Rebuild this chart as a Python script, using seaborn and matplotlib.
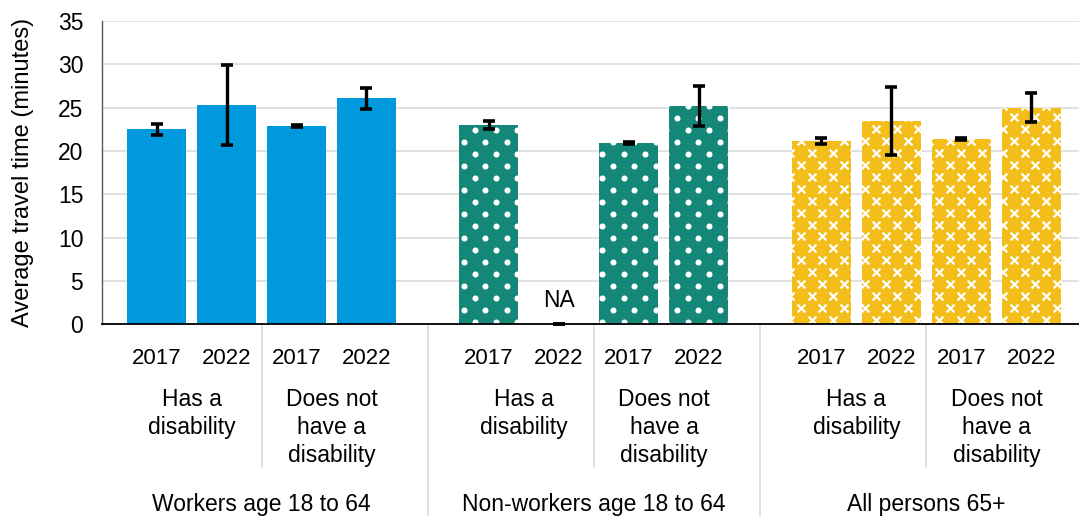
import numpy as np
import pandas as pd
import matplotlib
matplotlib.use("Agg")
import matplotlib.pyplot as plt
from matplotlib import transforms
import seaborn as sns

# ---- data -------------------------------------------------------------
groups = ["Workers age 18 to 64", "Non-workers age 18 to 64", "All persons 65+"]
statuses = ["Has a\ndisability", "Does not\nhave a\ndisability"]
years = ["2017", "2022"]

# average travel time (minutes) and margin of error, ordered:
# has disability 2017, 2022, does not have disability 2017, 2022
workers_mean = [22.5, 25.3, 22.9, 26.1]
workers_moe = [0.6, 4.6, 0.1, 1.2]
nonworkers_mean = [23.0, np.nan, 20.9, 25.2]
nonworkers_moe = [0.45, np.nan, 0.1, 2.35]
seniors_mean = [21.1, 23.45, 21.4, 25.0]
seniors_moe = [0.35, 3.95, 0.15, 1.65]

colors = ["#0099DD", "#148778", "#F4BE1A"]
patterns = [None, "dots", "crosses"]

# ---- layout -----------------------------------------------------------
GROUP_STEP = 4.75          # distance between first bars of neighbouring groups
W, H = 1079, 516
LABEL_SIZE = 16.5

rows = []
for g, (name, means, moes) in enumerate(zip(
        groups,
        [workers_mean, nonworkers_mean, seniors_mean],
        [workers_moe, nonworkers_moe, seniors_moe])):
    for i, (m, e) in enumerate(zip(means, moes)):
        rows.append(dict(group=name, gidx=g, status=statuses[i // 2],
                         year=years[i % 2], pos=g * GROUP_STEP + i,
                         minutes=m, moe=e))
df = pd.DataFrame(rows)
df["na"] = df["minutes"].isna()
df["bar"] = df["minutes"].fillna(0)
df["err"] = df["moe"].fillna(0)

sns.set_theme(style="white")
plt.rcParams["font.family"] = ["Liberation Sans", "DejaVu Sans"]

fig = plt.figure(figsize=(W / 100, H / 100), dpi=100)
ax_bottom_px, ax_top_px = 324.3, 21.0
ax = fig.add_axes([102 / W, (H - ax_bottom_px) / H, 977 / W,
                   (ax_bottom_px - ax_top_px) / H])

sns.barplot(data=df, x="pos", y="bar", hue="group", hue_order=groups,
            palette=colors, native_scale=True, dodge=False, width=0.843,
            errorbar=None, legend=False, saturation=1, linewidth=0, ax=ax)

ax.set_xlim(-0.779, 13.18)
ax.set_ylim(0, 35)
ax.set_yticks(range(0, 36, 5))
ax.yaxis.grid(True, color="#d9d9d9", linewidth=1.1)
ax.xaxis.grid(False)
ax.set_axisbelow(True)

for side in ["top", "right"]:
    ax.spines[side].set_visible(False)
ax.spines["left"].set_color("#595959")
ax.spines["left"].set_linewidth(1.0)
ax.spines["bottom"].set_color("black")
ax.spines["bottom"].set_linewidth(1.3)
ax.spines["bottom"].set_zorder(6)

ax.set_xticks(df["pos"], labels=df["year"])
ax.tick_params(axis="x", length=0, pad=17.0, labelsize=16, labelcolor="black")
ax.tick_params(axis="y", length=0, pad=13.5, labelsize=16.5, labelcolor="black")
ax.set_xlabel("")
ax.set_ylabel("Average travel time (minutes)", fontsize=17, color="black")
ax.yaxis.set_label_coords(-0.081, 0.5)
ax.yaxis.label.set_va("center")

# error bars
eb = ax.errorbar(df["pos"], df["bar"], yerr=df["err"], fmt="none",
                 ecolor="black", elinewidth=2.4, capsize=4.4, capthick=2.6,
                 zorder=7)
for art in eb.lines[1] + eb.lines[2]:
    art.set_clip_on(False)

# NA marker
for _, r in df[df["na"]].iterrows():
    ax.annotate("NA", (r["pos"], 0), xytext=(0, 12.5), textcoords="offset points",
                ha="center", va="baseline", fontsize=LABEL_SIZE, color="black")

# ---- fill patterns ----------------------------------------------------
fig.canvas.draw()
inv = ax.transData.inverted()
bars = sorted(ax.patches, key=lambda p: p.get_x())


def lattice(bb, x0, y0, dx, dy):
    pts = []
    j0 = int(np.floor((bb.y0 - y0) / dy)) - 1
    j1 = int(np.ceil((bb.y1 - y0) / dy)) + 1
    for j in range(j0, j1 + 1):
        y = y0 + j * dy
        off = (j % 2) * dx / 2
        i0 = int(np.floor((bb.x0 - x0 - off) / dx)) - 1
        i1 = int(np.ceil((bb.x1 - x0 - off) / dx)) + 1
        for i in range(i0, i1 + 1):
            pts.append((x0 + off + i * dx, y))
    return np.array(pts)


for patch, (_, r) in zip(bars, df.sort_values("pos").iterrows()):
    kind = patterns[r["gidx"]]
    if kind is None or r["bar"] <= 0:
        continue
    bb = patch.get_window_extent()
    if kind == "dots":
        pts = inv.transform(lattice(bb, 464.0, H - 141.7, 21.3, 12.03))
        sc = ax.scatter(pts[:, 0], pts[:, 1], s=19, marker="o", color="white",
                        linewidths=0, zorder=3)
    else:
        pts = inv.transform(lattice(bb, 801.0, H - 165.0, 21.3, 11.9))
        sc = ax.scatter(pts[:, 0], pts[:, 1], s=32, marker="x", color="white",
                        linewidths=1.6, zorder=3)
    sc.set_clip_path(patch)

# ---- multi-level category labels -------------------------------------
blend = transforms.blended_transform_factory(ax.transData, ax.transAxes)
px = ax_bottom_px - ax_top_px


def ax_y(y_px):
    return -(y_px - ax_bottom_px) / px


sep_color = "#d9d9d9"
for g in range(len(groups)):
    base = g * GROUP_STEP
    # separator between the two disability statuses
    ax.plot([base + 1.5] * 2, [0, ax_y(467)], transform=blend, color=sep_color,
            lw=1.2, clip_on=False)
    # status labels, one line at a time
    for s, status in enumerate(statuses):
        cx = base + 2 * s + 0.5
        for k, line in enumerate(status.split("\n")):
            ax.text(cx, ax_y(406 + 27.8 * k), line, transform=blend,
                    ha="center", va="baseline", fontsize=LABEL_SIZE,
                    color="black")
    ax.text(base + 1.5, ax_y(511), groups[g], transform=blend, ha="center",
            va="baseline", fontsize=LABEL_SIZE, color="black")
    if g < len(groups) - 1:
        gx = base + 3 + (GROUP_STEP - 3) / 2
        ax.plot([gx] * 2, [0, ax_y(H + 5)], transform=blend, color=sep_color,
                lw=1.2, clip_on=False)

fig.savefig("out.png", dpi=100)
